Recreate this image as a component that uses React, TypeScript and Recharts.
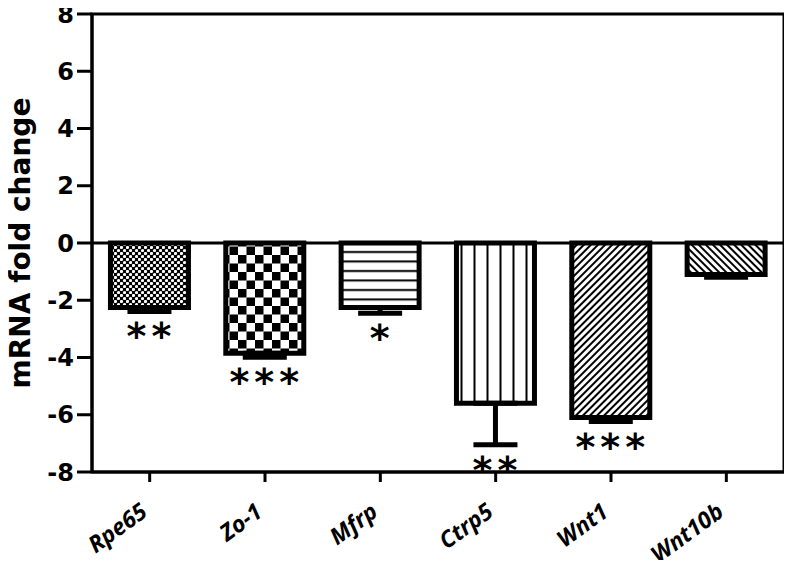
import React from 'react';
import { BarChart, Bar, XAxis, YAxis, Cell, ErrorBar, ReferenceLine, ReferenceArea, LabelList } from 'recharts';

const genes = ['Rpe65', 'Zo-1', 'Mfrp', 'Ctrp5', 'Wnt1', 'Wnt10b'];
const foldChange = [-2.25, -3.85, -2.25, -5.6, -6.1, -1.1];
const errDown = [0.14, 0.14, 0.2, 1.45, 0.14, 0.1];
const significance = ['**', '***', '*', '**', '***', ''];
const yTicks = [-8, -6, -4, -2, 0, 2, 4, 6, 8];
const patternIds = ['pDots', 'pChecker', 'pHLines', 'pVLines', 'pDiagUp', 'pDiagDown'];

const data = genes.map((g, i) => ({ gene: g, value: foldChange[i], err: [errDown[i], 0] }));

const FONT = '"DejaVu Sans", "Liberation Sans", Arial, sans-serif';

const SigLabel = (props: any) => {
  const vb = props.viewBox || props;
  const x = props.x ?? vb.x;
  const y = props.y ?? vb.y;
  const width = props.width ?? vb.width;
  const height = props.height ?? vb.height;
  const i = genes.indexOf(props.value);
  if (i < 0 || !significance[i]) return null;
  const top = Math.min(y, y + height);
  const bottom = Math.max(y, y + height);
  const ppu = (bottom - top) / Math.abs(foldChange[i]);
  const errEnd = bottom + errDown[i] * ppu;
  return (
    <text
      x={x + width / 2 + 2}
      y={errEnd + 38}
      textAnchor="middle"
      fontFamily={FONT}
      fontWeight="bold"
      fontSize={38}
      letterSpacing={5}
      fill="#000"
    >
      {significance[i]}
    </text>
  );
};

const YLabel = (props: any) => {
  const vb = props.viewBox || {};
  const cx = vb.x + vb.width - 62;
  const cy = vb.y + vb.height / 2;
  return (
    <text
      transform={`translate(${cx},${cy}) rotate(-90)`}
      textAnchor="middle"
      fontFamily={FONT}
      fontWeight="bold"
      fontSize={28}
      fill="#000"
    >
      mRNA fold change
    </text>
  );
};

const XTick = (props: any) => {
  const { x, y, payload } = props;
  return (
    <g transform={`translate(${x - 1},${y + 31})`}>
      <text
        textAnchor="end"
        transform="rotate(-36)"
        fontFamily='"Open Sans", sans-serif'
        fontStyle="italic"
        fontWeight="bold"
        fontSize={23}
        fill="#000"
      >
        {payload.value}
      </text>
    </g>
  );
};

const Patterns = () => (
  <svg width={0} height={0} style={{ position: 'absolute' }}>
    <defs>
      <pattern id="pDots" patternUnits="userSpaceOnUse" width={6} height={6}>
        <rect width={6} height={6} fill="#000" />
        <circle cx={1.5} cy={1.5} r={1.6} fill="#fff" />
        <circle cx={4.5} cy={4.5} r={1.6} fill="#fff" />
      </pattern>
      <pattern id="pChecker" patternUnits="userSpaceOnUse" width={17} height={17}>
        <rect width={17} height={17} fill="#fff" />
        <rect x={0} y={0} width={8.5} height={8.5} fill="#000" />
        <rect x={8.5} y={8.5} width={8.5} height={8.5} fill="#000" />
      </pattern>
      <pattern id="pHLines" patternUnits="userSpaceOnUse" width={10} height={9.5}>
        <rect width={10} height={9.5} fill="#fff" />
        <rect x={0} y={4} width={10} height={2} fill="#000" />
      </pattern>
      <pattern id="pVLines" patternUnits="userSpaceOnUse" width={13} height={10}>
        <rect width={13} height={10} fill="#fff" />
        <rect x={5.5} y={0} width={2} height={10} fill="#000" />
      </pattern>
      <pattern id="pDiagUp" patternUnits="userSpaceOnUse" width={5} height={5} patternTransform="rotate(45)">
        <rect width={5} height={5} fill="#fff" />
        <rect x={0} y={0} width={2} height={5} fill="#000" />
      </pattern>
      <pattern id="pDiagDown" patternUnits="userSpaceOnUse" width={5} height={5} patternTransform="rotate(-45)">
        <rect width={5} height={5} fill="#fff" />
        <rect x={0} y={0} width={2} height={5} fill="#000" />
      </pattern>
    </defs>
  </svg>
);

export default function App() {
  return (
    <div style={{ position: 'relative', width: 792, height: 568, margin: -8, background: '#fff' }}>
      <Patterns />
      <BarChart
        width={792}
        height={568}
        data={data}
        margin={{ top: 14, right: 8, bottom: 0, left: 32 }}
        barCategoryGap="16%"
      >
        <ReferenceArea y1={-8} y2={8} fill="none" stroke="#000" strokeWidth={3} />
        <XAxis
          dataKey="gene"
          interval={0}
          height={96}
          tickSize={10}
          axisLine={{ stroke: '#000', strokeWidth: 3 }}
          tickLine={{ stroke: '#000', strokeWidth: 3 }}
          tick={<XTick />}
        />
        <YAxis
          domain={[-8, 8]}
          ticks={yTicks}
          width={60}
          tickSize={15}
          tickMargin={3}
          axisLine={{ stroke: '#000', strokeWidth: 3 }}
          tickLine={{ stroke: '#000', strokeWidth: 3 }}
          tick={{ fill: '#000', fontFamily: FONT, fontWeight: 'bold', fontSize: 24 }}
          label={<YLabel />}
        />
        <ReferenceLine y={0} stroke="#000" strokeWidth={3} />
        <Bar dataKey="value" stroke="#000" strokeWidth={5} isAnimationActive={false}>
          {data.map((d, i) => (
            <Cell key={d.gene} fill={`url(#${patternIds[i]})`} />
          ))}
          <ErrorBar dataKey="err" direction="y" width={22} stroke="#000" strokeWidth={5} />
          <LabelList dataKey="gene" content={<SigLabel />} />
        </Bar>
      </BarChart>
    </div>
  );
}
